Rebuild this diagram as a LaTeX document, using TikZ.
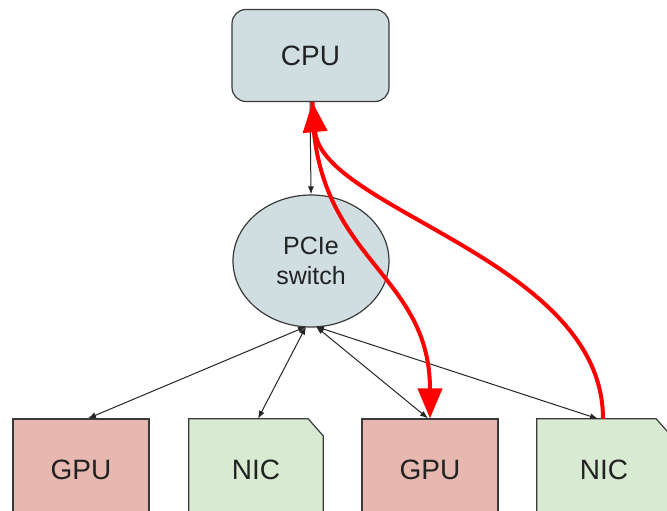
\documentclass[tikz,border=0pt]{standalone}
\usepackage{fontspec}
\setmainfont{Liberation Sans}
\usetikzlibrary{arrows.meta,shapes.geometric}
\definecolor{cpufill}{HTML}{D0DEE2}
\definecolor{gpufill}{HTML}{E6B8AF}
\definecolor{nicfill}{HTML}{D9EAD3}
\definecolor{edgegray}{HTML}{3A3A3A}
\definecolor{txt}{HTML}{222222}
\definecolor{redline}{HTML}{FF0000}
\tikzset{
  boxbase/.style={draw=edgegray, line width=1.2pt, text=txt, font=\fontsize{28}{32}\selectfont, inner sep=0pt},
  cpubox/.style={boxbase, rectangle, rounded corners=14pt, fill=cpufill, minimum width=157pt, minimum height=92pt},
  switchnode/.style={boxbase, ellipse, fill=cpufill, minimum width=156pt, minimum height=132pt, align=center, font=\fontsize{25}{30}\selectfont},
  gpubox/.style={boxbase, rectangle, fill=gpufill, minimum width=136pt, minimum height=102pt},
  nicbox/.style={rectangle, text=txt, font=\fontsize{28}{32}\selectfont, inner sep=0pt, minimum width=134pt, minimum height=102pt},
  nicoutline/.style={draw=edgegray, line width=1.2pt, fill=nicfill},
  thinlink/.style={draw=black!85, line width=1pt, {Latex[length=8pt,width=6pt]}-{Latex[length=8pt,width=6pt]}},
  thinone/.style={draw=black!85, line width=1pt, -{Latex[length=8pt,width=6pt]}},
  redflow/.style={draw=redline, line width=4pt, -{Triangle[length=30pt,width=24pt]}}
}
\begin{document}
\begin{tikzpicture}[x=1pt,y=-1pt]
\useasboundingbox (0,0) rectangle (667,511);
\fill[white] (0,0) rectangle (667,511);
\clip (0,0) rectangle (667,511);
% nodes
\node[cpubox] (cpu) at (310.5,55.5) {CPU};
\node[switchnode] (sw) at (311,261) {PCIe\\switch};
\node[gpubox] (gpu1) at (81,470) {GPU};
\node[nicbox] (nic1) at (256,470) {};
\node[gpubox] (gpu2) at (430,470) {GPU};
\node[nicbox] (nic2) at (604,470) {};
% NIC outlines with cut corner
\draw[nicoutline] (nic1.south west) -- (nic1.north west) -- ([xshift=-15pt]nic1.north east) -- ([yshift=-17pt]nic1.north east) -- (nic1.south east) -- cycle;
\draw[nicoutline] (nic2.south west) -- (nic2.north west) -- ([xshift=-15pt]nic2.north east) -- ([yshift=-17pt]nic2.north east) -- (nic2.south east) -- cycle;
\node[nicbox] at (nic1) {NIC};
\node[nicbox] at (nic2) {NIC};
% connector anchor points
\coordinate (swl) at ([xshift=-5pt,yshift=1pt]sw.south);
\coordinate (swr) at ([xshift=5pt,yshift=1pt]sw.south);
\coordinate (cpub) at ([xshift=2pt]cpu.south);
% thin black connectors
\draw[thinone] ([xshift=-0.5pt]cpu.south) -- (sw.north);
\draw[thinlink] (swl) -- ([xshift=7pt]gpu1.north);
\draw[thinlink] (swl) -- ([xshift=2pt]nic1.north);
\draw[thinlink] (swr) -- ([xshift=-2pt]gpu2.north);
\draw[thinlink] (swr) -- ([xshift=-6pt]nic2.north);
% red flows
\draw[redflow] (cpub) .. controls (312,260) and (430,270) .. (gpu2.north);
\draw[redflow] ([xshift=-1pt]nic2.north) .. controls (603,260) and (322,210) .. (cpub);
\end{tikzpicture}
\end{document}
